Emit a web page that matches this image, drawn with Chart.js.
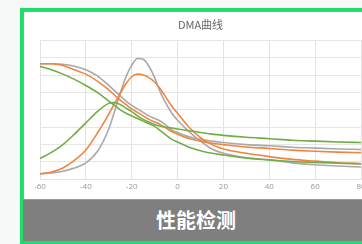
<!DOCTYPE html>
<html>
<head>
<meta charset="utf-8">
<script src="https://cdn.jsdelivr.net/npm/chart.js@4"></script>
<style>
  html, body { margin: 0; padding: 0; background: #f7f9f9; width: 362px; height: 244px; overflow: hidden; }
  #frame { position: absolute; left: 20px; top: 8px; width: 346px; height: 230px; border: 3px solid #1fdd6a; background: #7f7f7f; }
  #panel { position: absolute; left: 0; top: 0; width: 344px; height: 187px; background: #fff; border: 1px solid #74c043; }
  #wrap { position: absolute; left: 0; top: 0; width: 350px; height: 188px; }
  #bar { position: absolute; left: 0; top: 189px; width: 346px; height: 41px; color: #fff; font-family: "Noto Sans CJK SC", sans-serif; font-weight: bold; font-size: 20px; text-align: center; line-height: 40px; }
</style>
</head>
<body>
<div id="frame">
  <div id="panel"><div id="wrap"><canvas id="c"></canvas></div></div>
  <div id="bar">性能检测</div>
</div>
<script>
const title = "DMA曲线";
const temps = [-60,-55,-50,-45,-40,-35,-30,-27.5,-25,-22.5,-20,-17.5,-15,-12.5,-10,-7.5,-5,-2.5,0,5,10,15,20,30,40,50,60,70,80];
const grayPeak   = [0.32,0.37,0.47,0.65,0.95,1.6,2.9,3.9,4.95,5.9,6.55,6.95,6.9,6.5,5.85,5.0,4.35,3.8,3.4,2.75,2.2,1.75,1.5,1.25,1.12,0.95,0.84,0.77,0.71];
const orangePeak = [0.32,0.42,0.66,1.1,1.69,2.65,3.75,4.35,4.95,5.5,5.9,6.05,6.0,5.85,5.6,5.2,4.7,4.2,3.8,3.0,2.4,2.0,1.75,1.5,1.31,1.15,1.05,0.96,0.9];
const grayHigh   = [6.65,6.65,6.62,6.5,6.3,5.95,5.4,5.1,4.8,4.5,4.25,4.05,3.85,3.65,3.5,3.35,3.1,2.85,2.7,2.45,2.3,2.2,2.12,2.0,1.93,1.85,1.8,1.75,1.72];
const orangeHigh = [6.65,6.65,6.55,6.3,6.05,5.65,5.15,4.85,4.55,4.3,4.05,3.85,3.65,3.45,3.3,3.15,2.95,2.75,2.6,2.35,2.2,2.08,2.0,1.86,1.78,1.68,1.62,1.57,1.54];
const greenHigh  = [6.5,6.3,6.05,5.75,5.4,5.0,4.5,4.25,4.0,3.8,3.65,3.5,3.35,3.2,3.05,2.8,2.55,2.3,2.15,1.85,1.65,1.5,1.4,1.22,1.12,1.03,0.98,0.93,0.9];
const greenPeak  = [1.2,1.55,2.0,2.6,3.25,3.9,4.37,4.42,4.3,4.1,3.9,3.65,3.45,3.3,3.15,3.05,3.0,2.95,2.9,2.8,2.7,2.6,2.53,2.42,2.34,2.25,2.2,2.15,2.12];
const xTicks = [-60,-40,-20,0,20,40,60,80];

const series = [
  {v: greenHigh, c: '#70ad47'},
  {v: greenPeak, c: '#70ad47'},
  {v: orangeHigh, c: '#f0843f'},
  {v: orangePeak, c: '#f0843f'},
  {v: grayHigh, c: '#a9a9a9'},
  {v: grayPeak, c: '#a9a9a9'}
];

new Chart(document.getElementById('c'), {
  type: 'line',
  data: {
    datasets: series.map(s => ({
      data: temps.map((t, i) => ({x: t, y: s.v[i]})),
      borderColor: s.c,
      borderWidth: 1.6,
      pointRadius: 0,
      fill: false,
      cubicInterpolationMode: 'monotone'
    }))
  },
  options: {
    responsive: true,
    maintainAspectRatio: false,
    animation: false,
    layout: { padding: { left: 16, right: 13, top: 0, bottom: 5 } },
    plugins: {
      legend: { display: false },
      tooltip: { enabled: false },
      title: {
        display: true, text: title, color: '#666',
        font: { family: '"Noto Sans CJK SC", sans-serif', size: 11, weight: 'normal' },
        padding: { top: 6, bottom: 9 }
      }
    },
    scales: {
      x: {
        type: 'linear', min: -60, max: 80,
        afterBuildTicks: a => { a.ticks = xTicks.map(v => ({value: v})); },
        grid: { color: '#e2e2e2', drawTicks: false },
        border: { color: '#e2e2e2' },
        ticks: { color: '#999', padding: 3, font: { family: '"Open Sans", sans-serif', size: 8 } }
      },
      y: {
        min: 0, max: 8,
        ticks: { display: false, stepSize: 1 },
        grid: { color: '#e6e6e6', drawTicks: false },
        border: { display: false }
      }
    }
  }
});
</script>
</body>
</html>
